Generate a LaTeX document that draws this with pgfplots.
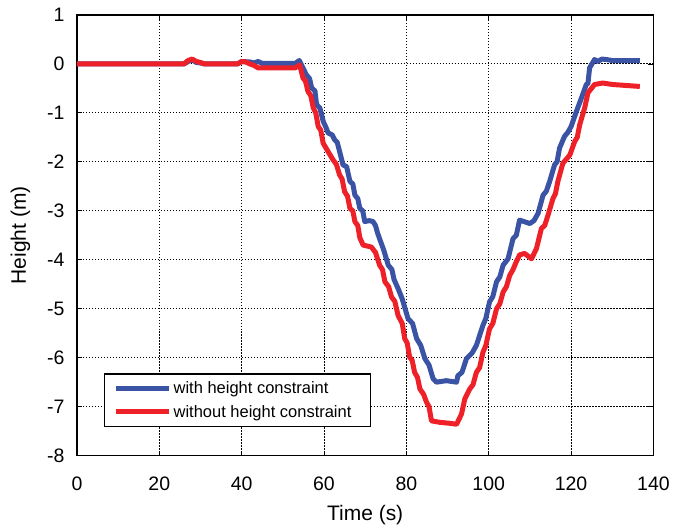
\documentclass[border=0pt]{standalone}
\usepackage{fontspec}
\setmainfont{Liberation Sans}
\usepackage{pgfplots}
\pgfplotsset{compat=1.18}
\definecolor{cblue}{RGB}{58,83,164}
\definecolor{cred}{RGB}{238,32,40}
\begin{document}
\begin{tikzpicture}
\begin{axis}[
  scale only axis, width=577pt, height=441pt,
  xmin=0, xmax=140, ymin=-8, ymax=1,
  xtick={0,20,...,140}, ytick={-8,-7,...,1},
  /pgf/number format/assume math mode=true,
  ticklabel style={font=\fontsize{19.5}{22}\selectfont},
  label style={font=\fontsize{21}{24}\selectfont},
  xlabel={Time (s)}, ylabel={Height (m)},
  xlabel style={yshift=-8pt}, ylabel style={yshift=10pt},
  xticklabel style={yshift=-18pt}, yticklabel style={xshift=-9pt},
  axis line style={black, line width=1.6pt},
  tick style={black, line width=0.8pt}, tick align=inside, major tick length=5pt,
  grid=major, major grid style={black, line width=0.9pt, dash pattern=on 1.2pt off 1.8pt},
  legend style={at={(0.047,0.064)}, anchor=south west, draw=black, line width=1.4pt,
    font=\fontsize{16.5}{20}\selectfont, inner xsep=9pt, inner ysep=6pt, row sep=6pt},
  legend cell align=left,
  legend image code/.code={\draw[#1, line width=5pt] (0pt,0pt) -- (53pt,0pt);},
]
\coordinate (sw) at (rel axis cs:0,0);
\coordinate (ne) at (rel axis cs:1,1);
\addplot[cblue, line width=5pt, line join=round] coordinates {
(0,0)(26,0)(27,0.05)(28,0.08)(29,0.03)(30,0.02)(31,0)(39,0)(40,0.05)(42,0.04)(43,0.02)(44,0.05)(45,0.01)(53,0.01)(54,0.07)(55,-0.1)(55.7,-0.22)(56.5,-0.3)(57,-0.49)(57.8,-0.55)(58.2,-0.83)(59,-0.9)(59.8,-1.17)(60.5,-1.3)(61,-1.41)(62,-1.45)(62.6,-1.55)(63.2,-1.6)(63.8,-1.79)(64.6,-2.06)(65.5,-2.1)(66.3,-2.40)(67,-2.45)(67.5,-2.68)(68.2,-2.75)(68.7,-2.95)(69.4,-3.0)(69.9,-3.22)(71,-3.2)(71.9,-3.22)(72.5,-3.3)(73,-3.45)(73.5,-3.57)(74.5,-3.8)(75.6,-4.11)(76.5,-4.2)(77,-4.4)(78,-4.59)(79,-4.8)(80.4,-5.2)(81.5,-5.3)(82.5,-5.61)(83.5,-5.75)(84.5,-6.02)(85.5,-6.15)(86.5,-6.43)(87.3,-6.5)(89.7,-6.47)(92.2,-6.5)(92.5,-6.37)(93.5,-6.3)(94.6,-6.02)(96,-5.9)(97,-5.75)(98.6,-5.34)(99.3,-5.2)(100.2,-4.86)(101,-4.75)(101.9,-4.45)(102.7,-4.35)(103.5,-4.11)(104.7,-3.98)(105.9,-3.57)(106.7,-3.5)(107.5,-3.19)(110,-3.26)(111,-3.2)(112,-3.05)(113.2,-2.68)(114,-2.6)(114.8,-2.40)(116,-2.06)(116.6,-2.0)(117.2,-1.72)(118.4,-1.48)(119.2,-1.4)(120,-1.28)(121.3,-0.97)(122.5,-0.70)(123.7,-0.42)(124.1,-0.4)(124.5,-0.08)(125.7,0.09)(126.5,0.05)(127.5,0.1)(128.6,0.09)(130,0.07)(136.7,0.07)
};
\addlegendentry{with height constraint}
\addplot[cred, line width=5pt, line join=round] coordinates {
(0,0)(26,0)(27,0.07)(28,0.1)(29,0.05)(30,0.03)(31,0)(39,0)(40,0.05)(41,0.04)(42,0)(43,-0.03)(44,-0.08)(53,-0.08)(54.1,-0.02)(54.9,-0.29)(55.5,-0.35)(56.1,-0.56)(56.8,-0.65)(57.4,-0.90)(58,-1.0)(58.6,-1.28)(59.2,-1.35)(59.8,-1.62)(61,-1.79)(62.2,-1.96)(63,-2.05)(63.8,-2.27)(64.4,-2.35)(65,-2.61)(65.7,-2.7)(66.3,-2.95)(67,-3.0)(67.5,-3.22)(68.2,-3.3)(68.7,-3.55)(69.5,-3.7)(71.5,-3.74)(72.5,-3.85)(73.5,-4.11)(74.2,-4.2)(74.8,-4.45)(75.7,-4.55)(76.4,-4.76)(77.2,-4.85)(78,-5.14)(79,-5.3)(79.6,-5.61)(80.2,-5.7)(80.8,-5.99)(81.4,-6.05)(82,-6.30)(82.7,-6.4)(83.3,-6.64)(84.2,-6.75)(84.9,-6.91)(85.5,-7.0)(86.1,-7.29)(88.1,-7.32)(90.5,-7.34)(92.2,-7.36)(93.4,-7.15)(94.2,-6.84)(95.4,-6.64)(96.2,-6.55)(97,-6.30)(97.8,-6.2)(98.6,-5.89)(99.3,-5.75)(100.2,-5.41)(101,-5.3)(101.9,-5.0)(102.7,-4.9)(103.5,-4.66)(104.3,-4.55)(105.1,-4.32)(105.9,-4.2)(106.7,-4.04)(107.5,-3.9)(108.7,-3.87)(110.4,-3.98)(111.6,-3.77)(112.8,-3.36)(113.6,-3.3)(114.4,-3.09)(115.6,-2.75)(116.2,-2.65)(116.8,-2.40)(118,-2.03)(119.7,-1.86)(120.9,-1.58)(121.5,-1.5)(122.1,-1.24)(123.3,-0.90)(124.1,-0.59)(125.7,-0.42)(127.7,-0.39)(130.1,-0.42)(136.7,-0.46)
};
\addlegendentry{without height constraint\hspace*{8pt}}
\end{axis}
\path ([shift={(-77pt,-69pt)}]sw) rectangle ([shift={(19pt,15pt)}]ne);
\end{tikzpicture}
\end{document}
